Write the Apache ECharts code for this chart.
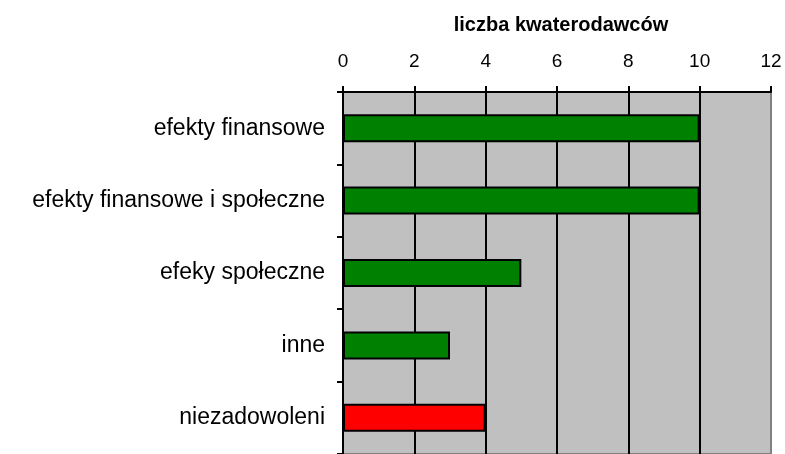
<!DOCTYPE html>
<html><head><meta charset="utf-8">
<script src="https://cdn.jsdelivr.net/npm/echarts@6/dist/echarts.min.js"></script>
<style>html,body{margin:0;padding:0;background:#fff}#c{width:785px;height:454px}</style>
</head><body><div id="c"></div>
<script>
const categories = ['efekty finansowe', 'efekty finansowe i społeczne', 'efeky społeczne', 'inne', 'niezadowoleni'];
const values = [10, 10, 5, 3, 4];
const barColors = ['#008000', '#008000', '#008000', '#008000', '#ff0000'];
const axisTitle = 'liczba kwaterodawców';

const chart = echarts.init(document.getElementById('c'), null, {renderer: 'canvas'});
chart.setOption({
  animation: false,
  title: {
    text: axisTitle, left: 556, top: 10, textAlign: 'center',
    textStyle: {fontFamily: 'Liberation Sans, Arial, sans-serif', fontSize: 20, fontWeight: 'bold', color: '#000'}
  },
  grid: {left: 343, top: 92, width: 428, height: 366, show: true, backgroundColor: '#c0c0c0', borderColor: '#808080', borderWidth: 2},
  xAxis: {
    type: 'value', position: 'top', min: 0, max: 12, interval: 2,
    axisLine: {show: true, lineStyle: {color: '#000', width: 2}},
    axisTick: {show: true, length: 6, lineStyle: {color: '#000', width: 2}},
    axisLabel: {margin: 21, fontFamily: 'Liberation Sans, Arial, sans-serif', fontSize: 19, color: '#000'},
    splitLine: {show: true, showMinLine: false, showMaxLine: false, lineStyle: {color: '#000', width: 2}}
  },
  yAxis: {
    type: 'category', data: categories, inverse: true,
    axisLine: {show: true, lineStyle: {color: '#000', width: 2}},
    axisTick: {show: true, length: 6, lineStyle: {color: '#000', width: 2}},
    axisLabel: {margin: 18, fontFamily: 'Liberation Sans, Arial, sans-serif', fontSize: 23, color: '#000'},
    splitLine: {show: false}
  },
  series: [{
    type: 'bar', barWidth: 28,
    data: values.map((v, i) => ({value: v, itemStyle: {color: barColors[i]}})),
    itemStyle: {borderColor: '#000', borderWidth: 2}
  }]
});
</script></body></html>
